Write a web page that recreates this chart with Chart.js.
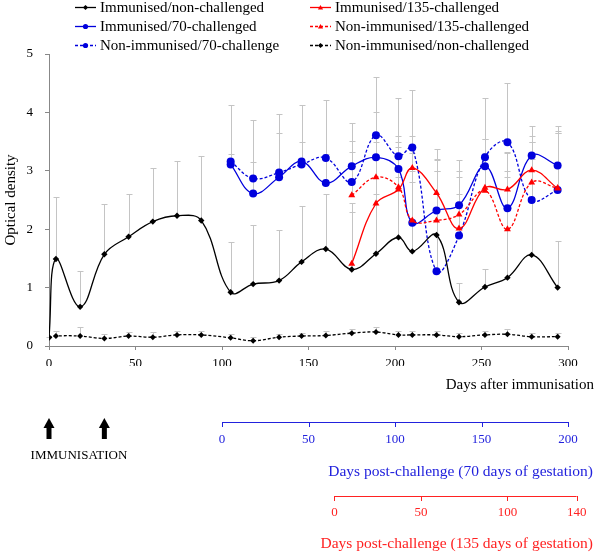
<!DOCTYPE html>
<html>
  <head>
    <title>Optical density after immunisation</title>
    <script src="https://cdn.jsdelivr.net/npm/chart.js@4.4.1/dist/chart.umd.min.js"></script>
    <style>
      body { margin: 0; background: #fff; }
      #wrap { width: 600px; height: 553px; }
    </style>
  </head>
  <body>
    <div id="wrap"><canvas id="myChart" width="600" height="553"></canvas></div>
  </body>
  <script>
    // sampling days (days after immunisation)
    const days = [0, 4, 18, 32, 46, 60, 74, 88, 105, 118, 133, 146, 160, 175, 189, 202, 210, 224, 237, 252, 265, 279, 294]
    const days70 = days.slice(8)
    const days135 = days.slice(13)

    const immNonChal = [0.15, 1.49, 0.67, 1.57, 1.87, 2.13, 2.23, 2.15, 0.92, 1.06, 1.12, 1.44, 1.66, 1.31, 1.58, 1.86, 1.62, 1.90, 0.75, 1.01, 1.17, 1.56, 1.00]
    const immNonChalErr = [0, 1.06, 0.62, 0.86, 0.74, 0.92, 0.93, 1.11, 0.86, 1.01, 0.87, 0.96, 0.94, 0.99, 1.02, 1.04, 1.18, 1.10, 0.33, 0.31, 1.73, 1.64, 0.79]

    const nonImmNonChal = [0.14, 0.17, 0.17, 0.13, 0.17, 0.15, 0.19, 0.19, 0.14, 0.09, 0.15, 0.17, 0.18, 0.22, 0.24, 0.19, 0.19, 0.19, 0.16, 0.19, 0.20, 0.16, 0.16]
    const nonImmNonChalErr = [0.02, 0.08, 0.15, 0.08, 0.07, 0.09, 0.07, 0.07, 0.06, 0.06, 0.06, 0.06, 0.07, 0.07, 0.08, 0.06, 0.06, 0.06, 0.06, 0.07, 0.09, 0.06, 0.06]

    const imm70 = [3.11, 2.61, 2.89, 3.16, 2.79, 3.08, 3.23, 3.03, 2.11, 2.32, 2.41, 3.08, 2.36, 3.26, 3.09]
    const imm70Err = [0.18, 0.54, 0.76, 0.33, 0.50, 0.43, 0.77, 0.57, 1.19, 0.86, 0.49, 0.47, 0.96, 0.50, 0.55]

    const nonImm70 = [3.16, 2.87, 2.97, 3.11, 3.22, 2.81, 3.61, 3.25, 3.40, 1.28, 1.89, 3.23, 3.49, 2.50, 2.67]
    const nonImm70Err = [0.96, 1.00, 1.01, 1.01, 0.99, 1.01, 1.00, 0.99, 0.99, 2.10, 1.29, 1.01, 1.01, 1.00, 1.09]

    const imm135 = [1.41, 2.44, 2.68, 3.05, 2.62, 2.01, 2.71, 2.68, 3.01, 2.70]
    const imm135Err = [1.04, 0.76, 0.82, 0.55, 0.58, 0.59, 0.59, 0.62, 0.59, 0.98]

    const nonImm135 = [2.58, 2.89, 2.72, 2.15, 2.15, 2.25, 2.66, 2.00, 2.80, 2.70]
    const nonImm135Err = [0.75, 0.61, 0.68, 0.85, 0.85, 0.75, 0.89, 1.00, 0.70, 0.94]

    const immunisationDays = [0, 32]
    const challenge70Day = 100
    const challenge135Day = 165
    const ticks70 = [0, 50, 100, 150, 200]
    const ticks135 = [0, 50, 100, 140]

    const pts = (xs, ys) => xs.map((d, i) => ({ x: d, y: ys[i] }))

    const mk = (label, xs, ys, errs, color, dash, style, radius) => ({
      label,
      data: pts(xs, ys),
      errs,
      borderColor: color,
      backgroundColor: color,
      borderWidth: 1.3,
      borderDash: dash,
      pointStyle: style,
      pointRadius: radius,
      pointBorderWidth: 0,
      tension: 0.4,
    })

    const dsImmNon = mk('Immunised/non-challenged', days, immNonChal, immNonChalErr, '#000000', [], 'rectRot', 3.2)
    const dsImm70 = mk('Immunised/70-challenged', days70, imm70, imm70Err, '#0000dd', [], 'circle', 4)
    const dsNonImm70 = mk('Non-immunised/70-challenge', days70, nonImm70, nonImm70Err, '#0000dd', [3, 2], 'circle', 4)
    const dsImm135 = mk('Immunised/135-challenged', days135, imm135, imm135Err, '#ff0000', [], 'triangle', 4)
    const dsNonImm135 = mk('Non-immunised/135-challenged', days135, nonImm135, nonImm135Err, '#ff0000', [3, 2], 'triangle', 4)
    const dsNonNon = mk('Non-immunised/non-challenged', days, nonImmNonChal, nonImmNonChalErr, '#000000', [3, 2], 'rectRot', 3)

    const errorBars = {
      id: 'errorBars',
      beforeDatasetsDraw(chart) {
        const { ctx, scales: { x, y } } = chart
        ctx.save()
        ctx.strokeStyle = '#c4c4c4'
        ctx.lineWidth = 1
        chart.data.datasets.forEach(ds => {
          ds.data.forEach((p, i) => {
            const e = ds.errs[i]
            if (!e) return
            const px = Math.round(x.getPixelForValue(p.x)) + 0.5
            const y0 = y.getPixelForValue(p.y)
            const y1 = Math.round(y.getPixelForValue(p.y + e)) + 0.5
            ctx.beginPath()
            ctx.moveTo(px, y0)
            ctx.lineTo(px, y1)
            ctx.moveTo(px - 3, y1)
            ctx.lineTo(px + 3, y1)
            ctx.stroke()
          })
        })
        ctx.restore()
      },
    }

    const drawMarker = (ctx, style, cx, cy, r, color) => {
      ctx.fillStyle = color
      ctx.beginPath()
      if (style === 'circle') {
        ctx.arc(cx, cy, r, 0, Math.PI * 2)
      } else if (style === 'triangle') {
        ctx.moveTo(cx, cy - r)
        ctx.lineTo(cx + r, cy + r * 0.8)
        ctx.lineTo(cx - r, cy + r * 0.8)
        ctx.closePath()
      } else {
        ctx.moveTo(cx, cy - r)
        ctx.lineTo(cx + r, cy)
        ctx.lineTo(cx, cy + r)
        ctx.lineTo(cx - r, cy)
        ctx.closePath()
      }
      ctx.fill()
    }

    const extras = {
      id: 'extras',
      afterDraw(chart) {
        const { ctx, scales: { x } } = chart
        ctx.save()
        ctx.font = '15px "Liberation Serif"'
        ctx.textBaseline = 'middle'

        // legend, two columns
        const cols = [[dsImmNon, dsImm70, dsNonImm70], [dsImm135, dsNonImm135, dsNonNon]]
        const colX = [75, 310]
        const rowY = [7, 26, 45]
        cols.forEach((col, c) => {
          col.forEach((ds, r) => {
            const lx = colX[c], ly = rowY[r] + 0.5
            ctx.strokeStyle = ds.borderColor
            ctx.lineWidth = 1.3
            ctx.setLineDash(ds.borderDash)
            ctx.beginPath()
            ctx.moveTo(lx, ly)
            ctx.lineTo(lx + 21, ly)
            ctx.stroke()
            ctx.setLineDash([])
            drawMarker(ctx, ds.pointStyle, lx + 10.5, ly, 2.6, ds.borderColor)
            ctx.fillStyle = '#000'
            ctx.textAlign = 'left'
            ctx.fillText(ds.label, lx + 25, rowY[r] + 1)
          })
        })

        // main x title
        ctx.fillStyle = '#000'
        ctx.textAlign = 'right'
        ctx.fillText('Days after immunisation', 594, 385)

        // immunisation arrows
        immunisationDays.forEach(d => {
          const ax = x.getPixelForValue(d)
          ctx.fillStyle = '#000'
          ctx.fillRect(ax - 2.5, 426, 5, 13)
          ctx.beginPath()
          ctx.moveTo(ax, 418)
          ctx.lineTo(ax + 5.5, 428)
          ctx.lineTo(ax - 5.5, 428)
          ctx.closePath()
          ctx.fill()
        })
        ctx.font = '13px "Liberation Serif"'
        ctx.textAlign = 'center'
        ctx.fillText('IMMUNISATION', 79, 456)

        // secondary post-challenge axes
        const secAxis = (offset, ticks, color, lineY, labelY, title, titleY) => {
          const x0 = x.getPixelForValue(offset + ticks[0])
          const x1 = x.getPixelForValue(offset + ticks[ticks.length - 1])
          ctx.strokeStyle = color
          ctx.lineWidth = 1
          ctx.beginPath()
          ctx.moveTo(x0, lineY + 0.5)
          ctx.lineTo(x1, lineY + 0.5)
          ticks.forEach(t => {
            const tx = Math.round(x.getPixelForValue(offset + t)) + 0.5
            ctx.moveTo(tx, lineY)
            ctx.lineTo(tx, lineY + 5)
          })
          ctx.stroke()
          ctx.fillStyle = color
          ctx.font = '13px "Liberation Serif"'
          ctx.textAlign = 'center'
          ticks.forEach(t => ctx.fillText(String(t), x.getPixelForValue(offset + t), labelY))
          ctx.font = '15.5px "Liberation Serif"'
          ctx.textAlign = 'right'
          ctx.fillText(title, 593, titleY)
        }
        secAxis(challenge70Day, ticks70, '#2222dd', 422, 440, 'Days post-challenge (70 days of gestation)', 472)
        secAxis(challenge135Day, ticks135, '#ff2222', 496, 513, 'Days post-challenge (135 days of gestation)', 544)
        ctx.restore()
      },
    }

    Chart.defaults.font.family = '"Liberation Serif"'
    Chart.defaults.color = '#000'

    const ctx = document.getElementById('myChart').getContext('2d')
    const myChart = new Chart(ctx, {
      type: 'line',
      data: {
        datasets: [dsNonNon, dsImmNon, dsNonImm135, dsImm135, dsNonImm70, dsImm70],
      },
      options: {
        responsive: false,
        animation: false,
        layout: { padding: { left: 0, top: 54, right: 32, bottom: 187 } },
        scales: {
          x: {
            type: 'linear',
            min: 0,
            max: 300,
            ticks: { stepSize: 50, padding: 6, font: { size: 13 } },
            grid: { drawOnChartArea: false, tickLength: 4, color: '#888' },
            border: { color: '#888' },
            afterFit: s => { s.height = 20 },
          },
          y: {
            min: 0,
            max: 5,
            ticks: { stepSize: 1, padding: 12, font: { size: 13 } },
            grid: { drawOnChartArea: false, tickLength: 4, color: '#888' },
            border: { color: '#888' },
            title: { display: true, text: 'Optical density', font: { size: 15 }, padding: { top: 2, bottom: 2 } },
            afterFit: s => { s.width = 49 },
          },
        },
        plugins: {
          legend: { display: false },
          tooltip: { enabled: false },
        },
      },
      plugins: [errorBars, extras],
    })
  </script>
</html>
